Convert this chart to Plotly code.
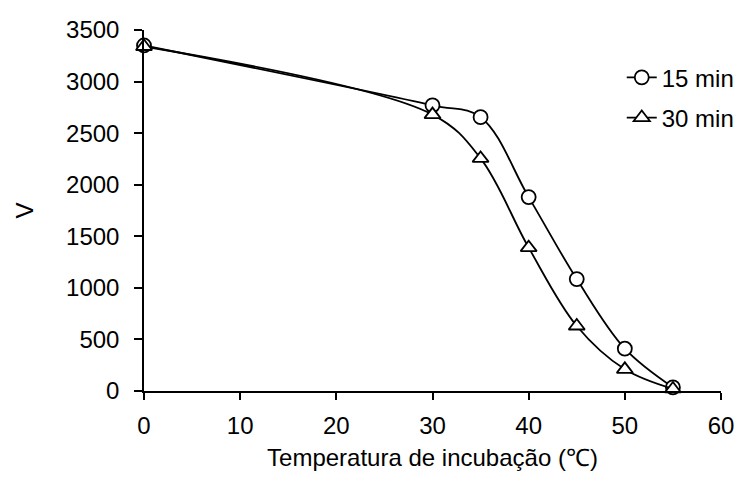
import plotly.graph_objects as go

temps = [0, 30, 35, 40, 45, 50, 55]
v_15min = [3350, 2770, 2655, 1880, 1085, 410, 35]
v_30min = [3340, 2680, 2255, 1390, 630, 210, 20]
series_names = ["15 min", "30 min"]
x_ticks = [0, 10, 20, 30, 40, 50, 60]
y_ticks = [0, 500, 1000, 1500, 2000, 2500, 3000, 3500]

FONT = "Liberation Sans, Arial, sans-serif"
FS = 24

fig = go.Figure()
fig.add_trace(go.Scatter(
    x=temps, y=v_15min, name=series_names[0], mode="lines+markers",
    line=dict(color="black", width=1.8, shape="spline", smoothing=1),
    marker=dict(symbol="circle", size=14, color="white", line=dict(color="black", width=1.8)),
    cliponaxis=False, legendgroup="a",
))
fig.add_trace(go.Scatter(
    x=temps, y=v_30min, name=series_names[1], mode="lines+markers",
    line=dict(color="black", width=1.8, shape="spline", smoothing=1),
    marker=dict(symbol="triangle-up", size=14, color="white", line=dict(color="black", width=1.8)),
    cliponaxis=False, legendgroup="b",
))

fig.update_layout(
    width=744, height=481,
    margin=dict(l=136, r=31, t=22, b=98, autoexpand=False),
    paper_bgcolor="white", plot_bgcolor="white",
    font=dict(family=FONT, size=FS, color="black"),
    showlegend=True,
    legend=dict(x=0.828, y=0.93, xanchor="left", yanchor="top",
                bgcolor="rgba(0,0,0,0)", font=dict(size=FS),
                tracegroupgap=6),
    xaxis=dict(
        range=[0, 60], tickvals=x_ticks, ticktext=[str(v) for v in x_ticks],
        showgrid=False, zeroline=False, showline=True, linecolor="black", linewidth=1.5,
        ticks="outside", ticklen=7, tickwidth=1.5, tickcolor="black",
        ticklabelstandoff=5, automargin=False,
        title=dict(text="Temperatura de incubação (℃)", standoff=12, font=dict(size=FS)),
    ),
    yaxis=dict(
        range=[0, 3500], tickvals=y_ticks, ticktext=[str(v) for v in y_ticks],
        showgrid=False, zeroline=False, showline=True, linecolor="black", linewidth=1.5,
        ticks="outside", ticklen=8, tickwidth=1.5, tickcolor="black",
        ticklabelstandoff=10, automargin=False,
        title=dict(text="V", standoff=26, font=dict(size=FS)),
    ),
)

fig.write_html("out.html")
